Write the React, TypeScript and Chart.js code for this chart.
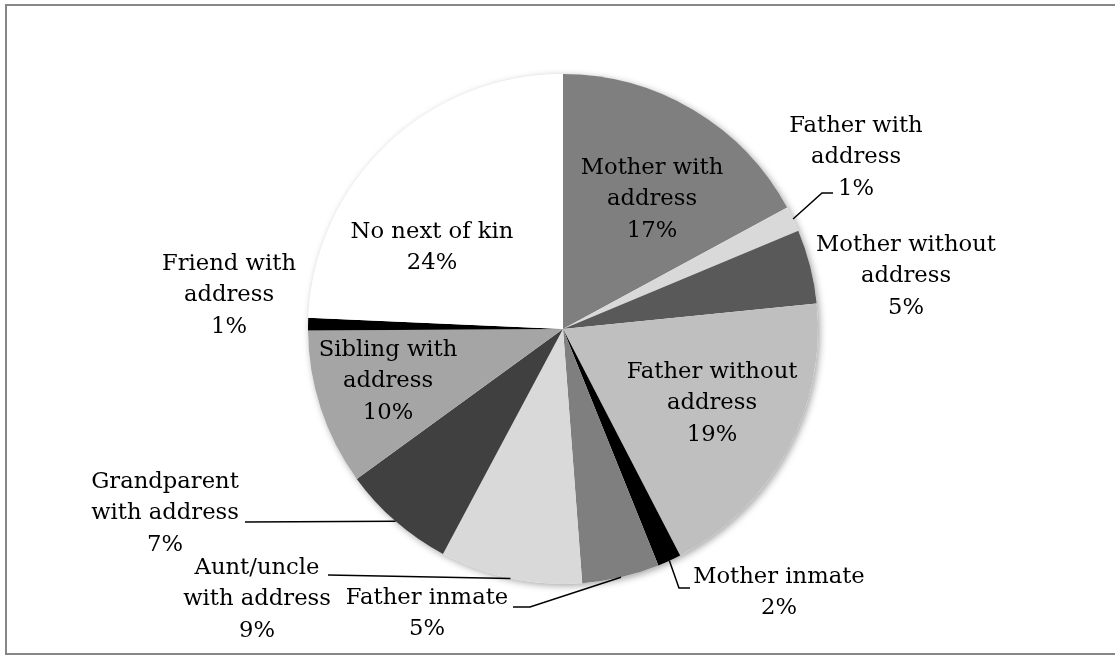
import React, { useEffect, useRef } from "react";
import { Chart, registerables } from "chart.js";

Chart.register(...registerables);

const categories = [
  "Mother with address",
  "Father with address",
  "Mother without address",
  "Father without address",
  "Mother inmate",
  "Father inmate",
  "Aunt/uncle with address",
  "Grandparent with address",
  "Sibling with address",
  "Friend with address",
  "No next of kin",
];
const shares = [17.1, 1.6, 4.7, 19.0, 1.5, 4.9, 9.0, 7.2, 9.9, 0.8, 24.3];
const percentLabels = ["17%", "1%", "5%", "19%", "2%", "5%", "9%", "7%", "10%", "1%", "24%"];
const labelLines = [
  ["Mother with", "address"],
  ["Father with", "address"],
  ["Mother without", "address"],
  ["Father without", "address"],
  ["Mother inmate"],
  ["Father inmate"],
  ["Aunt/uncle", "with address"],
  ["Grandparent", "with address"],
  ["Sibling with", "address"],
  ["Friend with", "address"],
  ["No next of kin"],
];

// styling / layout (not data)
const sliceColors = [
  "#7f7f7f", "#d9d9d9", "#595959", "#bfbfbf", "#000000",
  "#7f7f7f", "#d9d9d9", "#404040", "#a5a5a5", "#000000", "#ffffff",
];
// centre x, y of first text line for each label
const labelPos: [number, number][] = [
  [652, 168], [856, 126], [906, 245], [712, 372], [779, 577], [427, 598],
  [257, 568], [165, 482], [388, 350], [229, 264], [432, 232],
];
// leader polylines: points from label side toward the slice edge (edge point appended)
const leaders: Record<number, [number, number][]> = {
  1: [[833, 193], [822, 193]],
  4: [[690, 588], [679, 588]],
  5: [[513, 607], [530, 607]],
  6: [[328, 575]],
  7: [[245, 522]],
};
const LINE_H = 31.5;
const FONT = '22.7px "DejaVu Serif"';

const labelPlugin = {
  id: "pieLabels",
  beforeDatasetsDraw(chart: any) {
    const meta = chart.getDatasetMeta(0);
    const a = meta.data[0];
    if (!a) return;
    const ctx = chart.ctx;
    ctx.save();
    ctx.shadowColor = "rgba(0,0,0,0.35)";
    ctx.shadowBlur = 7;
    ctx.shadowOffsetX = 2;
    ctx.shadowOffsetY = 2;
    ctx.fillStyle = "#ffffff";
    ctx.beginPath();
    ctx.arc(a.x, a.y, a.outerRadius, 0, Math.PI * 2);
    ctx.fill();
    ctx.restore();
  },
  afterDatasetsDraw(chart: any) {
    const meta = chart.getDatasetMeta(0);
    const ctx = chart.ctx;
    ctx.save();
    ctx.strokeStyle = "#000";
    ctx.lineWidth = 1.5;
    Object.keys(leaders).forEach((k) => {
      const i = Number(k);
      const arc = meta.data[i];
      const mid = (arc.startAngle + arc.endAngle) / 2;
      const ex = arc.x + Math.cos(mid) * arc.outerRadius;
      const ey = arc.y + Math.sin(mid) * arc.outerRadius;
      const pts = [...leaders[i], [ex, ey]];
      ctx.beginPath();
      ctx.moveTo(pts[0][0], pts[0][1]);
      for (let p = 1; p < pts.length; p++) ctx.lineTo(pts[p][0], pts[p][1]);
      ctx.stroke();
    });
    ctx.fillStyle = "#000";
    ctx.font = FONT;
    ctx.textAlign = "center";
    ctx.textBaseline = "middle";
    labelLines.forEach((lines, i) => {
      const all = [...lines, percentLabels[i]];
      const [x, y] = labelPos[i];
      all.forEach((t, j) => ctx.fillText(t, x, y + j * LINE_H));
    });
    ctx.restore();
  },
};

export default function App() {
  const ref = useRef<HTMLCanvasElement>(null);
  useEffect(() => {
    if (!ref.current) return;
    const chart = new Chart(ref.current, {
      type: "pie",
      data: {
        labels: categories,
        datasets: [
          {
            data: shares,
            backgroundColor: sliceColors,
            borderWidth: 0,
          },
        ],
      },
      options: {
        responsive: false,
        maintainAspectRatio: false,
        animation: false,
        layout: { padding: { left: 263, right: 252, top: 74, bottom: 71 } },
        plugins: { legend: { display: false }, tooltip: { enabled: false } },
      },
      plugins: [labelPlugin],
    });
    return () => chart.destroy();
  }, []);
  return (
    <div
      style={{
        position: "absolute",
        left: 0,
        top: 0,
        width: 1115,
        height: 655,
        overflow: "hidden",
        background: "#fff",
      }}
    >
      <div
        style={{
          position: "absolute",
          left: 5,
          top: 4,
          width: 1120,
          height: 647,
          border: "2px solid #878787",
        }}
      />
      <canvas ref={ref} width={1115} height={655} style={{ position: "absolute", left: 0, top: 0 }} />
    </div>
  );
}
